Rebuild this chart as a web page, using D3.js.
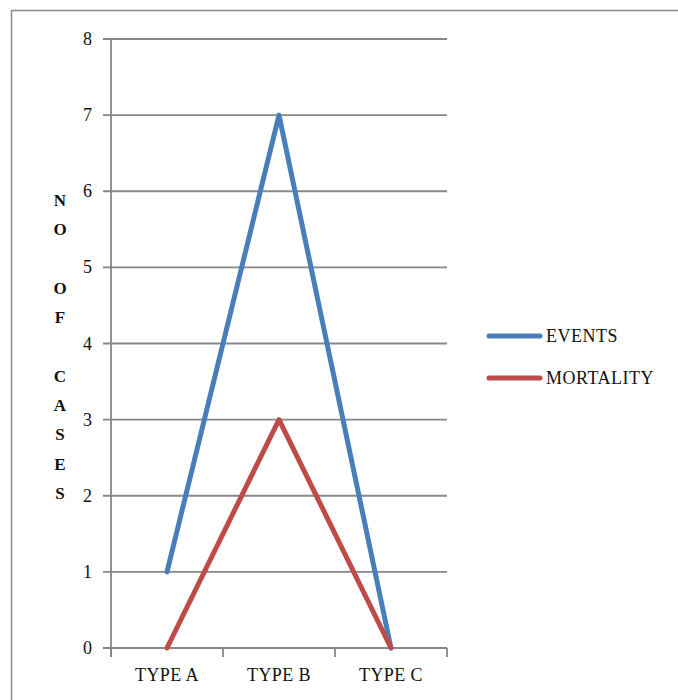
<!DOCTYPE html>
<html><head><meta charset="utf-8">
<script src="https://cdn.jsdelivr.net/npm/d3@7"></script>
<style>body{margin:0;background:#fff}svg{display:block}</style>
</head><body>
<svg id="c" width="678" height="700"></svg>
<script>
const categories = ["TYPE A", "TYPE B", "TYPE C"];
const events = [1, 7, 0];
const mortality = [0, 3, 0];
const yTicks = [0, 1, 2, 3, 4, 5, 6, 7, 8];
const seriesNames = ["EVENTS", "MORTALITY"];
const axisTitle = ["N","O","","O","F","","C","A","S","E","S"];

const svg = d3.select("#c");
const font = "'Liberation Serif', serif";
const grid = "#878787";

// outer frame
svg.append("path").attr("d","M11.5,700 V10.5 H678").attr("fill","none").attr("stroke","#8c8c8c").attr("stroke-width",1.5);

const x0 = 111, x1 = 447, yTop = 39, yBot = 648;
const x = d3.scaleBand().domain(categories).range([x0, x1]);
const y = d3.scaleLinear().domain([0, 8]).range([yBot, yTop]);

// gridlines
svg.append("g").selectAll("line").data(yTicks).join("line")
  .attr("x1", x0 - 8).attr("x2", x1).attr("y1", d => y(d)).attr("y2", d => y(d))
  .attr("stroke", grid).attr("stroke-width", 1.8);
// y axis line
svg.append("line").attr("x1", x0).attr("x2", x0).attr("y1", yTop).attr("y2", yBot + 9)
  .attr("stroke", grid).attr("stroke-width", 1.8);
// x tick marks
const xt = categories.map(c => x(c)).concat([x1]);
svg.append("g").selectAll("line").data(xt).join("line")
  .attr("x1", d => d).attr("x2", d => d).attr("y1", yBot).attr("y2", yBot + 9)
  .attr("stroke", grid).attr("stroke-width", 1.8);

// y labels
svg.append("g").selectAll("text").data(yTicks).join("text")
  .attr("x", 92).attr("y", d => y(d) + 6).attr("text-anchor", "end")
  .attr("font-family", font).attr("font-size", 18).attr("fill", "#111").text(d => d);
// x labels
svg.append("g").selectAll("text").data(categories).join("text")
  .attr("x", d => x(d) + x.bandwidth() / 2).attr("y", 681).attr("text-anchor", "middle")
  .attr("font-family", font).attr("font-size", 18).attr("letter-spacing", 0.4).attr("fill", "#111").text(d => d);

// axis title
svg.append("g").selectAll("text").data(axisTitle).join("text")
  .attr("x", 60).attr("y", (d, i) => 206 + i * 29.3).attr("text-anchor", "middle")
  .attr("font-family", font).attr("font-size", 17).attr("font-weight", "bold").attr("fill", "#111").text(d => d);

const line = d3.line().x((d, i) => x(categories[i]) + x.bandwidth() / 2).y(d => y(d));
const colors = ["#4a7ebb", "#be4b48"];
[events, mortality].forEach((s, k) => {
  svg.append("path").attr("d", line(s)).attr("fill", "none")
    .attr("stroke", colors[k]).attr("stroke-width", 5).attr("stroke-linecap", "round").attr("stroke-linejoin", "round");
});

// legend
const lg = svg.append("g");
seriesNames.forEach((n, k) => {
  const ly = 336 + k * 42;
  lg.append("line").attr("x1", 489).attr("x2", 540).attr("y1", ly).attr("y2", ly)
    .attr("stroke", colors[k]).attr("stroke-width", 5).attr("stroke-linecap", "round");
  lg.append("text").attr("x", 546).attr("y", ly + 6).attr("font-family", font).attr("font-size", 18)
    .attr("letter-spacing", 0.5).attr("fill", "#111").text(n);
});
</script>
</body></html>
